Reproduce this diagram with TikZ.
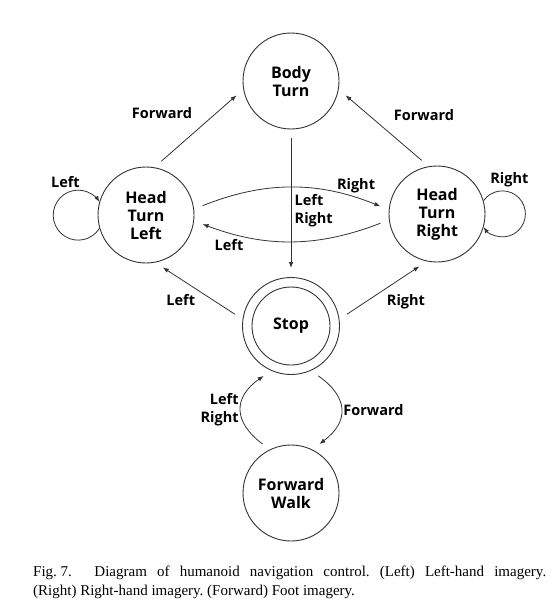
\documentclass[tikz,border=0pt]{standalone}
\usepackage{fontspec}
\newfontfamily\diagfont{Open Sans}
\newfontfamily\captionfont{Liberation Serif}
\usetikzlibrary{arrows.meta}

\tikzset{
  state/.style={draw=black!80, circle, line width=0.9pt, minimum size=96pt, inner sep=0pt,
    align=center, font=\diagfont\bfseries\fontsize{16}{18}\selectfont},
  trans/.style={draw=black!80, -{Latex[length=6pt,width=4.5pt]}, line width=0.8pt,
    shorten <=9pt, shorten >=9pt},
  selfloop/.style={draw=black!80, -{Latex[length=6pt,width=4.5pt]}, line width=0.8pt},
  lbl/.style={font=\diagfont\bfseries\fontsize{14.5}{18}\selectfont, align=left},
}

\begin{document}
\begin{tikzpicture}[x=1pt, y=1pt]
  \useasboundingbox (0,0) rectangle (556,-610);

  \node[state] (bt) at (291,-81) {Body\\Turn};
  \node[state] (htl) at (146,-215) {Head\\Turn\\Left};
  \node[state] (htr) at (437,-214) {Head\\Turn\\Right};
  \node[state, minimum size=97pt] (stop) at (291,-326) {Stop};
  \node[state] (fw) at (291,-493) {Forward\\Walk};
  \draw[line width=0.9pt, black!80] (stop.center) circle[radius=39];

  \draw[trans] (htl.80) -- node[pos=0.5, above left, xshift=-3pt, yshift=6pt, lbl] {Forward} (bt.190);
  \draw[trans] (htr.100) -- node[pos=0.55, above right, xshift=11pt, lbl] {Forward} (bt.-10);
  \draw[trans] (bt.south) -- node[pos=0.55, right, lbl] {Left\\Right} (stop.north);
  \draw[trans] (htl.7) to[bend left=22] node[pos=0.84, above=1pt, lbl] {Right} (htr.175);
  \draw[trans] (htr.187) to[bend left=21] node[pos=0.83, below=3pt, lbl] {Left} (htl.-7);
  \draw[trans] (stop.172) -- node[pos=0.5, below left, lbl] {Left} (htl.-79);
  \draw[trans] (stop.8) -- node[pos=0.5, below right, lbl] {Right} (htr.-102);
  \draw[trans] (stop.-66) to[out=-35, in=37, looseness=1.5]
    node[right, lbl] {Forward} (fw.64);
  \draw[trans] (fw.116) to[out=143, in=-145, looseness=1.5]
    node[left, lbl, align=right] {Left\\Right} (stop.-114);
  \draw[selfloop] (htl.196) arc[start angle=-31.9, delta angle=-296.2, radius=25]
    node[pos=0.7, above=2pt, lbl] {Left};
  \draw[selfloop] (htr.16) arc[start angle=144.9, delta angle=-289.8, radius=23]
    node[pos=0.25, above=1pt, lbl] {Right};

  \node[anchor=north west, inner sep=0pt, align=left,
    font=\captionfont\fontsize{15}{18.5}\selectfont\frenchspacing] (cap) at (33,-566)
    {\makebox[513pt][s]{\mbox{Fig. 7.}\hspace{1.5em}Diagram of humanoid navigation control. (Left) Left-hand imagery.}\\
     (Right) Right-hand imagery. (Forward) Foot imagery.};
\end{tikzpicture}
\end{document}
